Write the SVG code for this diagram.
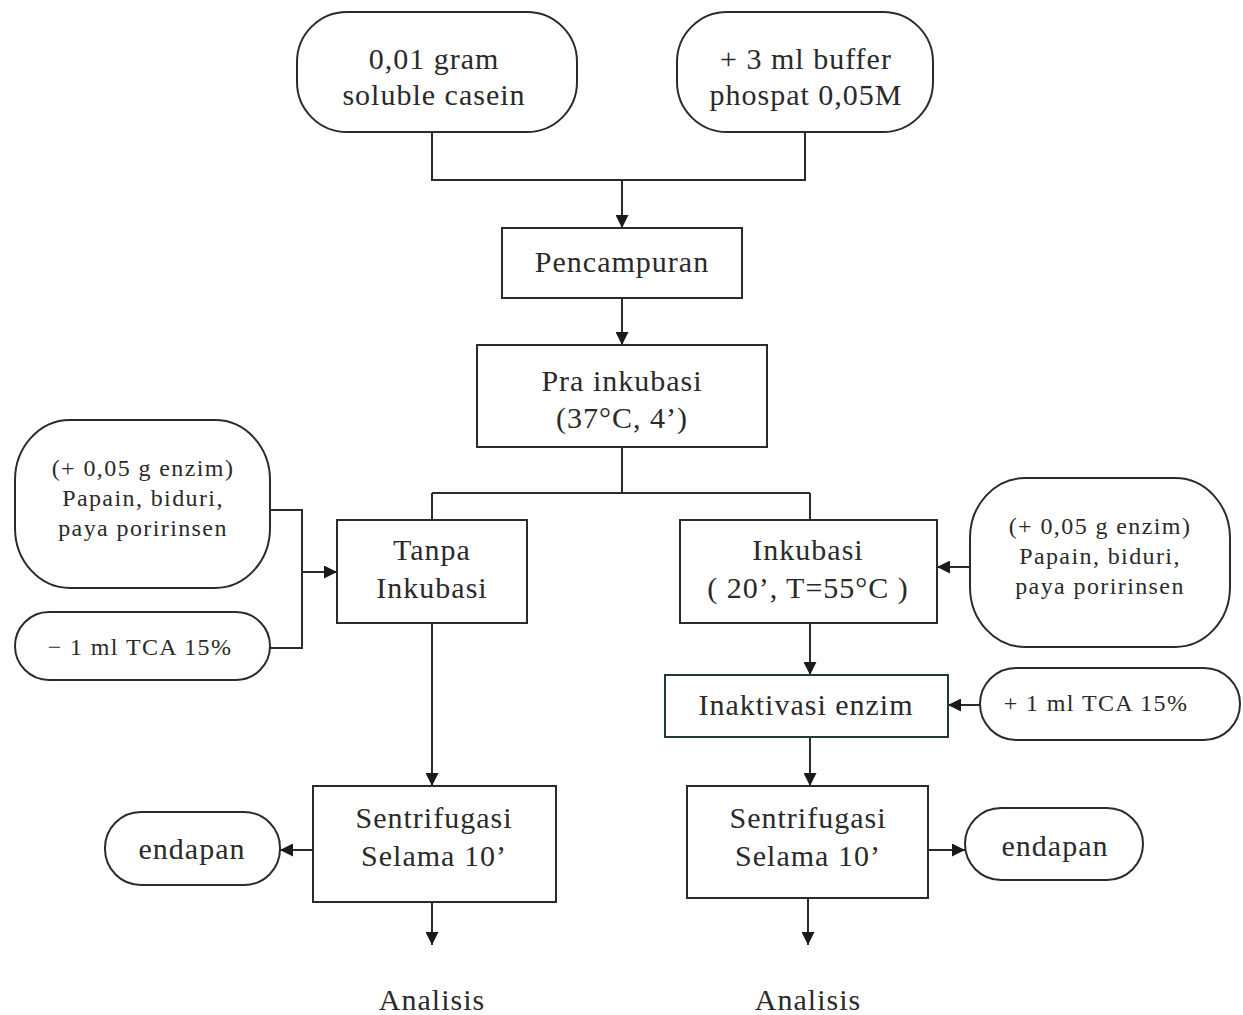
<svg xmlns="http://www.w3.org/2000/svg" width="1243" height="1015" viewBox="0 0 1243 1015">
<style>
.box{fill:#ffffff;stroke:#2b2b2b;stroke-width:2}
.term{fill:#ffffff;stroke:#2b2b2b;stroke-width:2}
.t{font-family:"Liberation Serif","Times New Roman",serif;font-size:30px;letter-spacing:1px;fill:#2a2a2a;text-anchor:middle}
.s{font-family:"Liberation Serif","Times New Roman",serif;font-size:24px;letter-spacing:1.4px;fill:#2a2a2a;text-anchor:middle}
.c{fill:none;stroke:#2b2b2b;stroke-width:2}
</style>
<defs>
<marker id="ah" viewBox="0 0 10 10" refX="10" refY="5" markerWidth="14" markerHeight="13" markerUnits="userSpaceOnUse" orient="auto">
<path d="M0,0 L10,5 L0,10 z" fill="#1a1a1a"/>
</marker>
</defs>
<rect width="1243" height="1015" fill="#ffffff"/>
<g id="connectors">
<path class="c" d="M432,132 V180 H805 V132"/>
<path class="c" d="M622,180 V228" marker-end="url(#ah)"/>
<path class="c" d="M622,298 V345" marker-end="url(#ah)"/>
<path class="c" d="M622,447 V493 M432,493 H810 M432,493 V520 M810,493 V520"/>
<path class="c" d="M270,510 H302 V648 H270"/>
<path class="c" d="M302,572 H337" marker-end="url(#ah)"/>
<path class="c" d="M432,623 V786" marker-end="url(#ah)"/>
<path class="c" d="M970,567 H937" marker-end="url(#ah)"/>
<path class="c" d="M810,623 V675" marker-end="url(#ah)"/>
<path class="c" d="M980,705 H948" marker-end="url(#ah)"/>
<path class="c" d="M810,737 V786" marker-end="url(#ah)"/>
<path class="c" d="M313,850 H280" marker-end="url(#ah)"/>
<path class="c" d="M432,902 V945" marker-end="url(#ah)"/>
<path class="c" d="M928,850 H965" marker-end="url(#ah)"/>
<path class="c" d="M808,898 V945" marker-end="url(#ah)"/>
</g>
<g id="casein">
<rect class="term" x="297" y="12" width="280" height="120" rx="50" ry="50"/>
<text class="t" x="434" y="69">0,01 gram</text>
<text class="t" x="434" y="105">soluble casein</text>
</g>
<g id="buffer">
<rect class="term" x="677" y="12" width="256" height="120" rx="50" ry="50"/>
<text class="t" x="806" y="69">+ 3 ml buffer</text>
<text class="t" x="806" y="105">phospat 0,05M</text>
</g>
<g id="pencampuran">
<rect class="box" x="502" y="228" width="240" height="70"/>
<text class="t" x="622" y="272">Pencampuran</text>
</g>
<g id="prainkubasi">
<rect class="box" x="477" y="345" width="290" height="102"/>
<text class="t" x="622" y="391">Pra inkubasi</text>
<text class="t" x="622" y="428">(37°C, 4’)</text>
</g>
<g id="enzim-left">
<rect class="term" x="15" y="420" width="255" height="168" rx="55" ry="60"/>
<text class="s" x="143" y="476">(+ 0,05 g enzim)</text>
<text class="s" x="143" y="506">Papain, biduri,</text>
<text class="s" x="143" y="536">paya poririnsen</text>
</g>
<g id="tca-left">
<rect class="term" x="15" y="612" width="255" height="68" rx="34" ry="34"/>
<text class="s" x="140" y="655">− 1 ml TCA  15%</text>
</g>
<g id="tanpa">
<rect class="box" x="337" y="520" width="190" height="103"/>
<text class="t" x="432" y="560">Tanpa</text>
<text class="t" x="432" y="598">Inkubasi</text>
</g>
<g id="inkubasi">
<rect class="box" x="680" y="520" width="257" height="103"/>
<text class="t" x="808" y="560">Inkubasi</text>
<text class="t" x="808" y="598">( 20’, T=55°C )</text>
</g>
<g id="enzim-right">
<rect class="term" x="970" y="478" width="260" height="169" rx="55" ry="60"/>
<text class="s" x="1100" y="534">(+ 0,05 g enzim)</text>
<text class="s" x="1100" y="564">Papain, biduri,</text>
<text class="s" x="1100" y="594">paya poririnsen</text>
</g>
<g id="inaktivasi">
<rect class="box" x="665" y="675" width="283" height="62" style="stroke:#1e3d30"/>
<text class="t" x="806" y="715">Inaktivasi enzim</text>
</g>
<g id="tca-right">
<rect class="term" x="980" y="668" width="260" height="72" rx="36" ry="36"/>
<text class="s" x="1096" y="711">+ 1 ml TCA  15%</text>
</g>
<g id="sentrifugasi-left">
<rect class="box" x="313" y="786" width="243" height="116"/>
<text class="t" x="434" y="828">Sentrifugasi</text>
<text class="t" x="434" y="866">Selama  10’</text>
</g>
<g id="endapan-left">
<rect class="term" x="105" y="812" width="175" height="73" rx="36" ry="36"/>
<text class="t" x="192" y="859">endapan</text>
</g>
<g id="analisis-left">
<text class="t" x="432" y="1010">Analisis</text>
</g>
<g id="sentrifugasi-right">
<rect class="box" x="687" y="786" width="241" height="112"/>
<text class="t" x="808" y="828">Sentrifugasi</text>
<text class="t" x="808" y="866">Selama  10’</text>
</g>
<g id="endapan-right">
<rect class="term" x="965" y="808" width="178" height="72" rx="36" ry="36"/>
<text class="t" x="1055" y="856">endapan</text>
</g>
<g id="analisis-right">
<text class="t" x="808" y="1010">Analisis</text>
</g>
</svg>
